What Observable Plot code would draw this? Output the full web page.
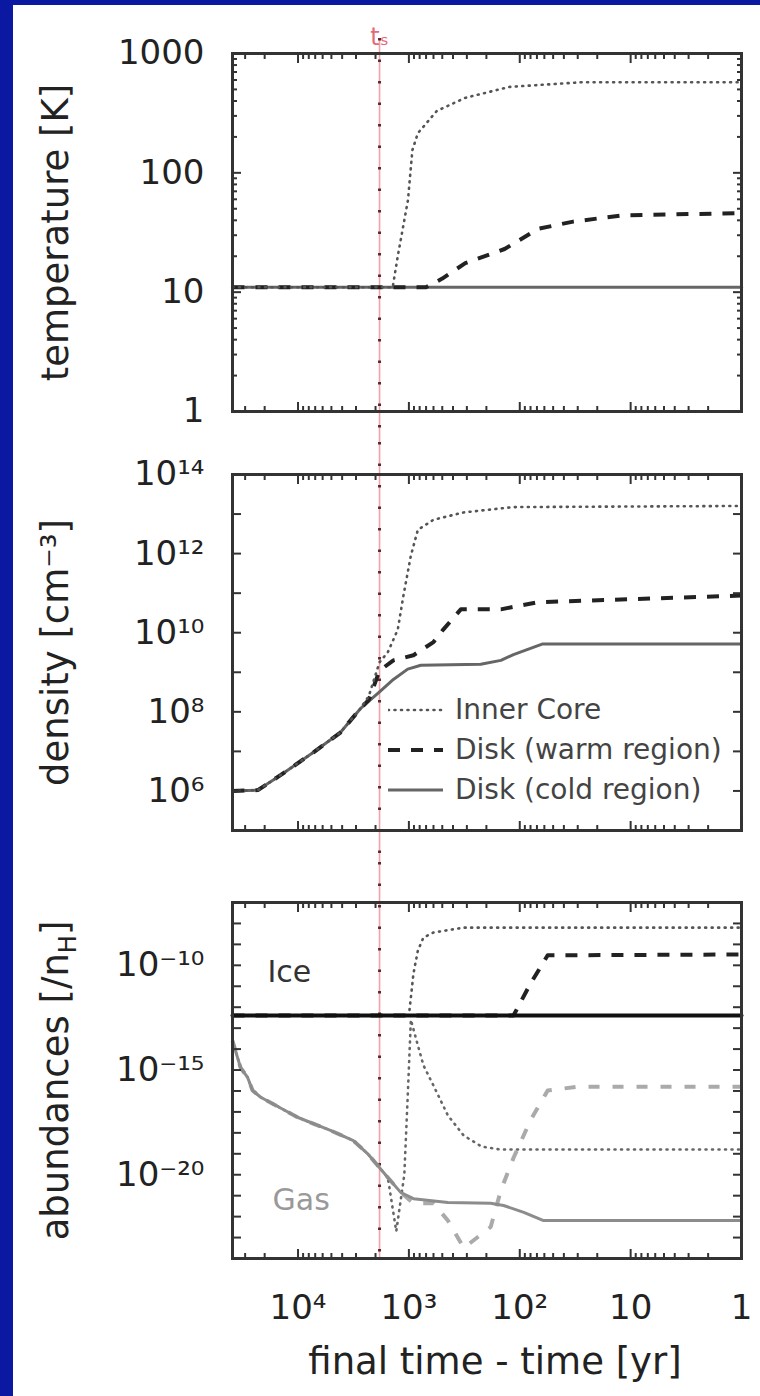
<!DOCTYPE html>
<html><head><meta charset="utf-8">
<script src="https://cdn.jsdelivr.net/npm/d3@7"></script>
<script src="https://cdn.jsdelivr.net/npm/@observablehq/plot@0.6"></script>
<style>
html,body{margin:0;padding:0;background:#0b18a2;}
#page{position:relative;width:760px;height:1396px;overflow:hidden;background:#0b18a2;}
#white{position:absolute;left:13px;top:5px;right:0;bottom:0;background:#fff;}
#legend{position:absolute;left:388px;top:690px;font-family:"DejaVu Sans";font-size:28px;color:#444;line-height:40px;}
#legend .row{display:flex;align-items:center;height:40px;}
#legend svg{margin-right:12px;}
</style></head>
<body><div id="page"><div id="white"></div></div>
<script>
// ---------------- data ----------------
const tS = 1840;                       // t_s marker (final time - time, yr)
const xDomain = [39000, 1];
const xTicks = [1e4, 1e3, 1e2, 10, 1];
const xTickLabels = ["10⁴", "10³", "10²", "10", "1"];

const tempTicks = [1, 10, 100, 1000];
const tempTickLabels = ["1", "10", "100", "1000"];
const densTicks = [1e6, 1e8, 1e10, 1e12, 1e14];
const densTickLabels = ["10⁶", "10⁸", "10¹⁰", "10¹²", "10¹⁴"];
const abunTicks = [1e-10, 1e-15, 1e-20];
const abunTickLabels = ["10⁻¹⁰", "10⁻¹⁵", "10⁻²⁰"];

const seriesNames = ["Inner Core", "Disk (warm region)", "Disk (cold region)"];

// temperature [K]
const tempCold = [[39000, 11], [1000, 11], [1, 11]];
const tempWarm = [[39000, 11], [700, 11], [500, 13], [310, 17.5], [137, 23], [68, 34], [33, 39], [12, 44], [1, 46]];
const tempInner = [[39000, 11], [1400, 11], [1260, 20], [1020, 59], [930, 155], [830, 215], [560, 330], [310, 425], [124, 525], [27, 575], [1, 575]];

// density [cm^-3]
const densCommon = [[39000, 1e6], [23000, 1.05e6], [14400, 2.5e6], [7250, 9.5e6], [4150, 3.0e7], [2740, 1.2e8]];
const densCold = [[1840, 3.2e8], [1380, 6.6e8], [1025, 1.2e9], [780, 1.5e9], [225, 1.6e9], [148, 2.0e9], [114, 2.8e9], [62, 5.2e9], [1, 5.2e9]];
const densWarm = [[2300, 2.0e8], [1840, 1.1e9], [1380, 2.0e9], [910, 2.7e9], [600, 5.8e9], [490, 1.2e10], [340, 3.9e10], [148, 3.9e10], [69, 5.9e10], [14, 6.8e10], [1, 8.7e10]];
const densInner = [[2300, 2.5e8], [1840, 1.8e9], [1550, 3.2e9], [1260, 1.2e10], [1120, 8.7e10], [960, 8.9e11], [830, 4e12], [600, 7.2e12], [320, 1.1e13], [114, 1.5e13], [1, 1.6e13]];

// abundances [/nH] : ice
const iceCold = [[39000, 4e-13], [1, 4e-13]];
const iceWarm = [[39000, 4e-13], [114, 4e-13], [80, 1.35e-11], [56, 3e-10], [1, 3.3e-10]];
const iceInner = [[39000, 4e-13], [1000, 4e-13], [910, 4e-11], [830, 5e-10], [740, 2.1e-9], [600, 3.7e-9], [320, 6.3e-9], [1, 6.3e-9]];
// abundances : gas
const gasCommon = [[39000, 2.5e-14], [33000, 1.3e-15], [28500, 4.4e-16], [25700, 1.05e-16], [21700, 5e-17], [10000, 5.4e-18], [5100, 1.3e-18], [3170, 4.3e-19], [2350, 1.0e-19], [1550, 7.4e-21]];
const gasCold = [[1180, 1.4e-21], [910, 7.2e-22], [445, 4.7e-22], [183, 4.3e-22], [140, 3.4e-22], [92, 1.6e-22], [61, 6.5e-23], [1, 6.5e-23]];
const gasWarm = [[1180, 1.4e-21], [910, 4.3e-22], [600, 4.3e-22], [445, 6.5e-23], [320, 3.2e-24], [183, 3.2e-23], [148, 1.8e-21], [114, 6.3e-20], [80, 4e-18], [56, 1.05e-16], [30, 1.6e-16], [1, 1.6e-16]];
const gasInner = [[1300, 2e-23], [1100, 1e-20], [1020, 1e-16], [960, 2.5e-13], [830, 1.5e-14], [740, 1.7e-15], [600, 1.8e-16], [445, 6.8e-18], [320, 7.4e-19], [220, 2.2e-19], [150, 1.6e-19], [1, 1.6e-19]];

// ---------------- helpers ----------------
const rows = (pts) => pts.map(([t, v]) => ({t, v}));
const fmt = (ticks, labels) => d => {
  const i = ticks.findIndex(t => Math.abs(Math.log10(t) - Math.log10(d)) < 1e-6);
  return i < 0 ? "" : labels[i];
};
const decades = (a, b) => d3.range(a, b + 1).map(e => Math.pow(10, e));
const minors = (a, b, lo, hi) => {
  const out = [];
  for (let e = a; e <= b; e++) for (let m = 2; m <= 9; m++) {
    const v = m * Math.pow(10, e);
    if (v > lo && v < hi) out.push(v);
  }
  return out;
};
const xMajor = decades(0, 4);
const xMinor = minors(0, 4, 1, 39000);

const styleInner = {stroke: "#555", strokeWidth: 2.6, strokeDasharray: "1,5.5", strokeLinecap: "round"};
const styleWarm = {stroke: "#222", strokeWidth: 4, strokeDasharray: "12,11", strokeLinecap: "butt"};
const styleCold = {stroke: "#666", strokeWidth: 3};

const tickStyle = {stroke: "#333", strokeWidth: 2, tickFormat: () => "", label: null};

function frameTicks(yMajor, yMinor, withXLabels) {
  const m = [
    Plot.axisX(xMajor, {anchor: "bottom", tickSize: -9, ...tickStyle}),
    Plot.axisX(xMajor, {anchor: "top", tickSize: -9, ...tickStyle}),
    Plot.axisX(xMinor, {anchor: "bottom", tickSize: -5, ...tickStyle}),
    Plot.axisX(xMinor, {anchor: "top", tickSize: -5, ...tickStyle}),
    Plot.axisY(yMajor, {anchor: "left", tickSize: -9, ...tickStyle}),
    Plot.axisY(yMajor, {anchor: "right", tickSize: -9, ...tickStyle})
  ];
  if (yMinor) {
    m.push(Plot.axisY(yMinor, {anchor: "left", tickSize: -5, ...tickStyle}));
    m.push(Plot.axisY(yMinor, {anchor: "right", tickSize: -5, ...tickStyle}));
  }
  if (withXLabels) {
    m.push(Plot.axisX(xTicks, {anchor: "bottom", tickSize: 0, tickPadding: 36, fontSize: 34, tickFormat: fmt(xTicks, xTickLabels), label: null}));
  }
  return m;
}
function tsRule(insetTop, insetBottom) {
  return [
    Plot.ruleX([tS], {x: d => d, stroke: "#f08a96", strokeWidth: 1.6, strokeOpacity: 0.8, insetTop, insetBottom}),
    Plot.ruleX([tS], {x: d => d, stroke: "#5a2a30", strokeWidth: 3, strokeDasharray: "2.5,19", insetTop, insetBottom})
  ];
}
function yTitle(text) {
  return Plot.text([text], {frameAnchor: "left", dx: -176, rotate: -90, textAnchor: "middle", lineAnchor: "middle", fontSize: 37, fill: "#222"});
}
const baseStyle = {fontFamily: "DejaVu Sans", fontSize: "34px", color: "#222", background: "transparent", overflow: "visible"};

function place(svg, top) {
  svg.style.position = "absolute";
  svg.style.left = "0px";
  svg.style.top = top + "px";
  document.getElementById("page").appendChild(svg);
}

// ---------------- panel 1: temperature ----------------
const p1 = Plot.plot({
  width: 760, height: 442, marginLeft: 232, marginRight: 19, marginTop: 53, marginBottom: 31,
  x: {type: "log", domain: xDomain},
  y: {type: "log", domain: [1, 1000]},
  style: baseStyle,
  marks: [
    ...tsRule(-15, -31),
    Plot.text([tS], {x: d => d, frameAnchor: "top", dy: -26, text: () => "tₛ", fill: "#e46a78", fontSize: 24}),
    Plot.line(rows(tempCold), {x: "t", y: "v", ...styleCold}),
    Plot.line(rows(tempWarm), {x: "t", y: "v", ...styleWarm}),
    Plot.line(rows(tempInner), {x: "t", y: "v", ...styleInner}),
    Plot.frame({stroke: "#333", strokeWidth: 3}),
    ...frameTicks(tempTicks, minors(0, 2, 1, 1000), false),
    Plot.axisY(tempTicks, {anchor: "left", tickSize: 0, tickPadding: 28, fontSize: 34, tickFormat: fmt(tempTicks, tempTickLabels), label: null}),
    yTitle("temperature [K]")
  ]
});
place(p1, 0);

// ---------------- panel 2: density ----------------
const p2 = Plot.plot({
  width: 760, height: 420, marginLeft: 232, marginRight: 19, marginTop: 32, marginBottom: 32,
  x: {type: "log", domain: xDomain},
  y: {type: "log", domain: [1e5, 1e14]},
  style: baseStyle,
  marks: [
    ...tsRule(-32, -32),
    Plot.line(rows(densCommon.concat(densCold)), {x: "t", y: "v", ...styleCold}),
    Plot.line(rows(densCommon.concat(densWarm)), {x: "t", y: "v", ...styleWarm}),
    Plot.line(rows(densCommon.concat(densInner)), {x: "t", y: "v", ...styleInner}),
    Plot.frame({stroke: "#333", strokeWidth: 3}),
    ...frameTicks(decades(5, 14), null, false),
    Plot.axisY(densTicks, {anchor: "left", tickSize: 0, tickPadding: 28, fontSize: 34, tickFormat: fmt(densTicks, densTickLabels), label: null}),
    yTitle("density [cm⁻³]")
  ]
});
place(p2, 442);

// ---------------- panel 3: abundances ----------------
const gasStyleCold = {stroke: "#8c8c8c", strokeWidth: 3};
const gasStyleWarm = {stroke: "#aaa", strokeWidth: 4, strokeDasharray: "11,13", strokeLinecap: "butt"};
const gasStyleInner = {stroke: "#666", strokeWidth: 2.6, strokeDasharray: "1,5.5", strokeLinecap: "round"};
const p3 = Plot.plot({
  width: 760, height: 534, marginLeft: 232, marginRight: 19, marginTop: 40, marginBottom: 138,
  x: {type: "log", domain: xDomain},
  y: {type: "log", domain: [1e-24, 1e-7]},
  style: baseStyle,
  marks: [
    ...tsRule(-40, 0),
    Plot.line(rows(gasCommon.concat(gasWarm)), {x: "t", y: "v", ...gasStyleWarm}),
    Plot.line(rows(gasCommon.concat(gasInner)), {x: "t", y: "v", ...gasStyleInner}),
    Plot.line(rows(gasCommon.concat(gasCold)), {x: "t", y: "v", ...gasStyleCold}),
    Plot.line(rows(iceInner), {x: "t", y: "v", ...styleInner}),
    Plot.line(rows(iceWarm), {x: "t", y: "v", ...styleWarm}),
    Plot.line(rows(iceCold), {x: "t", y: "v", stroke: "#111", strokeWidth: 4}),
    Plot.text(["Ice"], {frameAnchor: "top-left", dx: 35, dy: 58, textAnchor: "start", fontSize: 30, fill: "#333"}),
    Plot.text(["Gas"], {frameAnchor: "top-left", dx: 40, dy: 286, textAnchor: "start", fontSize: 30, fill: "#999"}),
    Plot.frame({stroke: "#333", strokeWidth: 3}),
    ...frameTicks(decades(-24, -7), null, true),
    Plot.axisY(abunTicks, {anchor: "left", tickSize: 0, tickPadding: 28, fontSize: 34, tickFormat: fmt(abunTicks, abunTickLabels), label: null}),
    yTitle("abundances [/nH]"),
    Plot.text(["final time - time [yr]"], {frameAnchor: "bottom", dx: 8, dy: 115, textAnchor: "middle", fontSize: 37, fill: "#222"})
  ]
});
place(p3, 862);
// subscript H in the abundance title
p3.querySelectorAll("text").forEach(t => {
  if (t.textContent === "abundances [/nH]") {
    t.textContent = "";
    const ns = "http://www.w3.org/2000/svg";
    const a = document.createElementNS(ns, "tspan"); a.textContent = "abundances [/n";
    const b = document.createElementNS(ns, "tspan"); b.textContent = "H"; b.setAttribute("font-size", "24"); b.setAttribute("dy", "8");
    const c = document.createElementNS(ns, "tspan"); c.textContent = "]"; c.setAttribute("dy", "-8");
    t.append(a, b, c);
  }
});

// ---------------- legend (inside density panel) ----------------
const legendStyles = [
  {stroke: "#555", width: 2.6, dash: "1,5.5", cap: "round"},
  {stroke: "#222", width: 4, dash: "12,11", cap: "butt"},
  {stroke: "#666", width: 3, dash: null, cap: "butt"}
];
const legend = document.createElement("div");
legend.id = "legend";
seriesNames.forEach((name, i) => {
  const s = legendStyles[i];
  const row = document.createElement("div");
  row.className = "row";
  row.innerHTML = `<svg width="55" height="12"><line x1="0" x2="55" y1="6" y2="6" stroke="${s.stroke}" stroke-width="${s.width}" ${s.dash ? `stroke-dasharray="${s.dash}"` : ""} stroke-linecap="${s.cap}"/></svg><span>${name}</span>`;
  legend.appendChild(row);
});
document.getElementById("page").appendChild(legend);
</script>
</body></html>
